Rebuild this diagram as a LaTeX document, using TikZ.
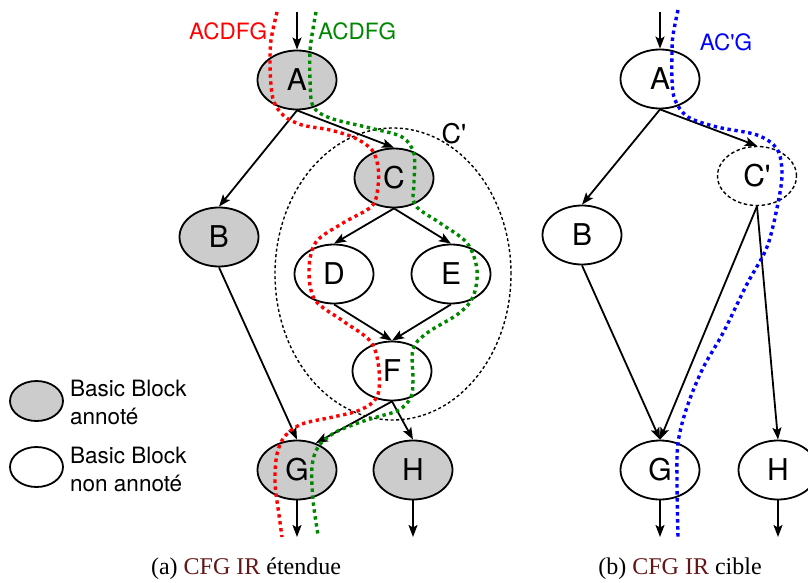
\documentclass[tikz,border=0pt]{standalone}
\usepackage{fontspec}
\setmainfont{TeX Gyre Heros}
\newfontfamily\capfont{Liberation Serif}
\usetikzlibrary{shapes.geometric,arrows.meta}
\definecolor{capred}{RGB}{100,22,22}
\definecolor{trgreen}{RGB}{0,135,0}
\begin{document}
\begin{tikzpicture}[x=1pt,y=-1pt,
  bb/.style={ellipse,draw,line width=1.8pt,minimum width=79pt,minimum height=59pt,inner sep=0pt,font=\fontsize{30}{36}\selectfont},
  ann/.style={bb,fill=gray!40},
  dashbb/.style={bb,dash pattern=on 3.5pt off 2.5pt,line width=1.4pt},
  edge/.style={line width=1.8pt,-{Stealth[length=12pt,width=9pt,inset=2.5pt]}},
  trace/.style={line width=3.4pt,dash pattern=on 3.4pt off 3.6pt},
  lbl/.style={font=\fontsize{22.5}{28}\selectfont,inner sep=0pt},
  captext/.style={font=\capfont\fontsize{24}{28}\selectfont,inner sep=0pt,anchor=base}
]
\useasboundingbox (0,0) rectangle (808,583);

% ---------- left graph ----------
\node[draw,ellipse,dash pattern=on 3pt off 2.5pt,line width=1.4pt,minimum width=236pt,minimum height=292pt] (Cp) at (393,274) {};
\node[font=\fontsize{27}{32}\selectfont,inner sep=0pt] (Cplbl) at (454,134) {C\textquotesingle};

\node[ann] (A) at (297,80) {A};
\node[ann] (C) at (394,178) {C};
\node[ann] (B) at (219,237) {B};
\node[bb] (D) at (334,274) {D};
\node[bb] (E) at (451,274) {E};
\node[bb] (F) at (392,371) {F};
\node[ann] (G) at (297,470) {G};
\node[ann] (H) at (413,470) {H};

\coordinate (Ain) at (297,12);
\coordinate (Gout) at (297,537);
\coordinate (Hout) at (413,537);

\draw[edge] (Ain) -- (A.north);
\draw[edge] (A.south) -- (B.north);
\draw[edge] (A.south) -- (C.north);
\draw[edge] (C.south) -- (D.north);
\draw[edge] (C.south) -- (E.north);
\draw[edge] (D.south) -- (F.north);
\draw[edge] (E.south) -- (F.north);
\draw[edge] (B.south) -- (G.north);
\draw[edge] (F.south) -- (G.55);
\draw[edge] (F.south) -- (H.north);
\draw[edge] (G.south) -- (Gout);
\draw[edge] (H.south) -- (Hout);

% traces
\draw[trace,red] plot[smooth,tension=0.55] coordinates {(277,12) (271,40) (270,62) (271,85) (274,102) (284,116) (302,125) (330,130) (355,138) (372,150) (378,167) (378,186) (372,206) (343,223) (316,242) (309,270) (315,300) (343,321) (371,342) (379,370) (377,397) (360,410) (333,417) (302,424) (285,436) (277,454) (275,483) (279,515) (282,537)};
\draw[trace,trgreen] plot[smooth,tension=0.55] coordinates {(316,12) (312,35) (310,52) (310,80) (313,106) (330,118) (370,128) (402,137) (414,154) (414,183) (415,205) (440,223) (467,243) (477,270) (473,297) (458,314) (427,333) (413,349) (413,380) (411,397) (399,410) (377,417) (358,423) (334,433) (318,447) (312,467) (313,500) (318,535)};
\node[lbl,text=red] (lr) at (228,31) {ACDFG};
\node[lbl,text=trgreen] (lg) at (357,31) {ACDFG};

% legend
\node[ann,minimum width=53pt,minimum height=40pt] (L1) at (36.5,401) {};
\node[bb,minimum width=53pt,minimum height=40pt] (L2) at (36.5,467) {};
\node[lbl,anchor=west,align=left] (T1) at (70,402) {Basic Block\\annoté};
\node[lbl,anchor=west,align=left] (T2) at (70,469) {Basic Block\\non annoté};

% ---------- right graph ----------
\node[bb] (A2) at (660,79) {A};
\node[bb] (B2) at (582,235) {B};
\node[dashbb] (C2) at (757,176) {C\textquotesingle};
\node[bb] (G2) at (660,470) {G};
\node[bb] (H2) at (778,470) {H};

\coordinate (A2in) at (660,12);
\coordinate (G2out) at (660,537);
\coordinate (H2out) at (778,537);

\draw[edge] (A2in) -- (A2.north);
\draw[edge] (A2.south) -- (B2.north);
\draw[edge] (A2.south) -- (C2.north);
\draw[edge] (B2.south) -- (G2.north);
\draw[edge] (C2.south) -- (G2.north);
\draw[edge] (C2.south) -- (H2.north);
\draw[edge] (G2.south) -- (G2out);
\draw[edge] (H2.south) -- (H2out);

\draw[trace,blue] plot[smooth,tension=0.55] coordinates {(678,10) (673,35) (672,52) (672,80) (675,100) (688,117) (717,127) (757,135) (777,149) (782,173) (778,203) (767,247) (747,284) (723,333) (703,368) (687,407) (678,443) (677,483) (678,537)};
\node[lbl,text=blue] (lb) at (726,42) {AC\textquotesingle G};

% captions
\node[captext] (capa) at (246,574) {(a) \textcolor{capred}{CFG IR} étendue};
\node[captext] (capb) at (680,574) {(b) \textcolor{capred}{CFG IR} cible};
\end{tikzpicture}
\end{document}
